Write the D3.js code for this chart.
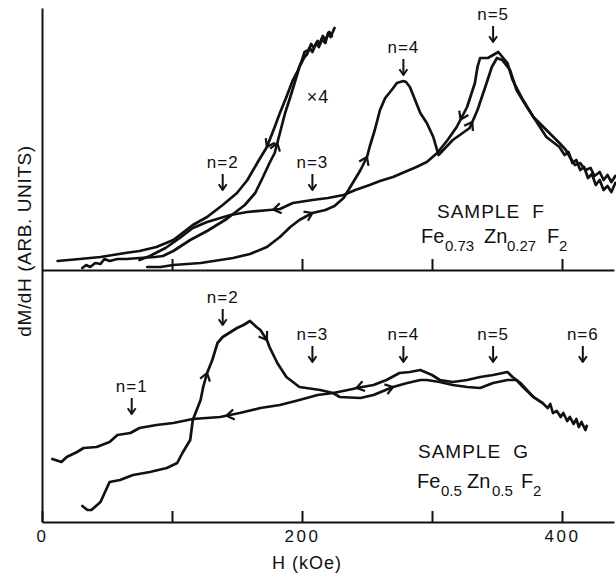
<!DOCTYPE html>
<html>
<head>
<meta charset="utf-8">
<script src="https://cdn.jsdelivr.net/npm/d3@7"></script>
<style>
  body { margin: 0; background: #fff; }
  svg text { font-family: "Liberation Sans", Arial, sans-serif; fill: #111; }
</style>
</head>
<body>
<div id="chart"></div>
<script>
// field axis
const fieldTicks = [0, 100, 200, 300, 400]
const fieldLabels = { 0: "0", 200: "200", 400: "400" }

// resonance fields marked n=1..6 (kOe)
const resonanceN = [1, 2, 3, 4, 5, 6]
const resonanceH = [69, 139, 208, 278, 347, 416]
// height of the n labels (arb. units), per panel; null = not shown
const labelLevelF = [null, 10.2, 10.2, 21.7, 25.0, null]
const labelLevelG = [13.0, 21.9, 18.2, 18.2, 18.2, 18.2]

// Sample F, traces as [H (kOe), dM/dH (arb.)]
const fX4Down = [
  [12, 0.9], [29, 1.1], [45, 1.3], [64, 1.7], [75, 1.9], [88, 2.3], [101, 3.0], [116, 4.5],
  [127, 5.3], [139, 6.5], [150, 7.7], [158, 9.0], [166, 10.8], [173, 12.3], [179, 14.3],
  [183, 15.7], [188, 17.3], [193, 19.0], [197, 20.0], [200, 21.0], [202, 21.8], [205, 22.0],
  [207, 22.6], [209, 22.2], [212, 22.9], [214, 22.6], [216, 23.4], [218, 23.0], [221, 23.8],
  [223, 23.4]
]
const fX4Up = [
  [31, 0.2], [34, 0.5], [37, 0.3], [41, 0.7], [45, 0.6], [48, 1.1], [52, 0.9], [58, 1.1],
  [65, 1.1], [75, 1.2], [87, 1.3], [93, 1.4], [101, 1.9], [114, 3.0], [127, 3.9], [142, 5.1],
  [156, 6.5], [164, 7.7], [170, 9.3], [175, 10.7], [179, 11.7], [183, 13.7], [187, 15.7],
  [191, 17.3], [195, 19.0], [198, 20.3], [202, 21.3], [204, 21.6], [206, 22.2], [208, 21.8],
  [211, 22.7], [213, 22.3], [215, 23.1], [218, 22.7], [220, 23.7], [222, 23.3], [225, 24.2]
]
const fMainUp = [
  [81, 0.3], [91, 0.3], [101, 0.5], [122, 0.7], [147, 1.2], [160, 1.6], [173, 2.3], [183, 3.3],
  [191, 4.3], [198, 5.0], [208, 5.7], [218, 6.0], [225, 6.4], [232, 7.2], [239, 8.7], [245, 10.0],
  [250, 11.3], [252, 12.3], [256, 14.0], [260, 16.0], [264, 17.2], [269, 18.0], [273, 18.7],
  [278, 18.9], [280, 18.8], [283, 18.3], [287, 17.0], [291, 15.7], [296, 14.7], [301, 13.3],
  [305, 11.5], [316, 13.0], [329, 14.2], [335, 16.0], [342, 18.7], [346, 20.3], [350, 21.2],
  [354, 21.0], [360, 20.0], [365, 18.0], [373, 16.3], [381, 14.7], [388, 13.3], [398, 12.3],
  [402, 11.5], [405, 11.8], [408, 10.7], [411, 11.0], [414, 10.0], [417, 10.3], [420, 9.2],
  [423, 9.6], [426, 8.5], [429, 9.0], [432, 8.0], [435, 8.4], [438, 7.8], [441, 8.7]
]
const fMainDown = [
  [441, 9.4], [438, 8.8], [435, 9.5], [432, 9.0], [429, 9.8], [425, 9.4], [422, 10.2], [418, 10.0],
  [414, 10.7], [410, 10.5], [406, 11.3], [403, 12.0], [398, 12.7], [388, 14.0], [378, 15.3],
  [370, 17.0], [362, 19.0], [358, 20.7], [351, 21.8], [347, 21.5], [343, 21.2], [337, 21.2],
  [335, 20.3], [333, 18.7], [327, 16.3], [319, 14.3], [312, 13.0], [304, 11.7], [296, 10.8],
  [288, 10.3], [279, 9.8], [270, 9.3], [260, 8.9], [252, 8.5], [241, 8.0], [232, 7.5], [220, 7.2],
  [208, 7.0], [193, 6.7], [183, 6.1], [175, 6.0], [158, 5.8], [145, 5.5], [127, 4.8], [116, 4.2],
  [106, 3.2], [95, 2.2], [83, 1.4], [75, 1.0]
]

// Sample G
const gUp = [
  [31, 1.6], [35, 1.2], [38, 1.2], [45, 2.0], [52, 4.0], [60, 4.2], [70, 4.7], [83, 5.0], [96, 5.4],
  [104, 5.9], [108, 6.9], [114, 8.2], [116, 10.2], [122, 12.2], [124, 13.5], [127, 14.9],
  [131, 16.2], [135, 17.9], [139, 18.5], [150, 19.4], [155, 19.7], [160, 20.1], [165, 19.5],
  [168, 19.2], [173, 18.2], [175, 17.5], [181, 15.9], [188, 14.5], [198, 13.5], [214, 13.2],
  [224, 12.9], [229, 12.5], [245, 12.4], [255, 12.7], [270, 13.5], [281, 13.9], [291, 14.2],
  [296, 14.2], [306, 14.0], [316, 13.7], [327, 13.5], [337, 13.4], [347, 13.9], [358, 14.2],
  [365, 14.2], [370, 13.5], [378, 12.5]
]
const gDown = [
  [419, 9.6], [418, 9.2], [415, 10.0], [413, 9.5], [411, 10.3], [409, 9.8], [406, 10.5],
  [404, 10.1], [401, 10.9], [399, 10.5], [396, 11.1], [393, 10.9], [391, 11.8], [389, 11.4],
  [385, 11.9], [378, 12.5], [373, 13.2], [368, 13.9], [362, 14.5], [358, 15.0], [347, 14.7],
  [337, 14.5], [327, 14.2], [316, 14.0], [306, 14.2], [300, 14.7], [291, 15.2], [283, 15.0],
  [275, 14.9], [265, 14.2], [255, 13.7], [242, 13.4], [239, 13.3], [224, 12.9], [212, 12.7],
  [198, 12.2], [183, 11.7], [168, 11.4], [152, 10.9], [137, 10.5], [116, 10.3], [101, 9.9],
  [88, 9.7], [75, 9.4], [68, 8.9], [58, 8.7], [52, 8.0], [42, 7.5], [32, 7.4], [27, 7.0],
  [19, 6.5], [15, 6.0], [8, 6.3]
]

const width = 616, height = 573
const x = d3.scaleLinear().domain([0, 440]).range([42, 614])
const yF = d3.scaleLinear().domain([0, 26]).range([270, 10])
const yG = d3.scaleLinear().domain([0, 25]).range([522, 272])

// sweep-direction arrows: [trace, H, +1 along array order / -1 against]
const arrowsF = [[fX4Down, 173, -1], [fX4Up, 181, 1], [fMainDown, 178, 1], [fMainUp, 208, 1],
  [fMainUp, 250, 1], [fMainDown, 322, 1], [fMainUp, 331, 1]]
const arrowsG = [[gUp, 127, 1], [gUp, 173, 1], [gDown, 142, 1], [gDown, 242, 1], [gUp, 270, 1]]

const svg = d3.select("#chart").append("svg")
  .attr("width", width).attr("height", height)

const ink = "#111"

function drawTrace(data, y) {
  svg.append("path").datum(data)
    .attr("d", d3.line().x(d => x(d[0])).y(d => y(d[1])))
    .attr("fill", "none").attr("stroke", ink).attr("stroke-width", 2.7)
    .attr("stroke-linejoin", "round").attr("stroke-linecap", "round")
}

function chevron(px, py, ang, len, w) {
  const s = 0.6
  const a = [px - len * Math.cos(ang - s), py - len * Math.sin(ang - s)]
  const b = [px - len * Math.cos(ang + s), py - len * Math.sin(ang + s)]
  svg.append("path")
    .attr("d", `M${a[0]},${a[1]}L${px},${py}L${b[0]},${b[1]}`)
    .attr("fill", "none").attr("stroke", ink).attr("stroke-width", w || 2.2)
    .attr("stroke-linejoin", "round")
}

function sweepArrow(data, h, dir, y) {
  for (let i = 0; i < data.length - 1; i++) {
    const a = data[i], b = data[i + 1]
    if ((h - a[0]) * (h - b[0]) <= 0 && a[0] !== b[0]) {
      const t = (h - a[0]) / (b[0] - a[0])
      const px = x(a[0]) + t * (x(b[0]) - x(a[0]))
      const py = y(a[1]) + t * (y(b[1]) - y(a[1]))
      const p0 = data[Math.max(0, i - 1)], p1 = data[Math.min(data.length - 1, i + 2)]
      let ang = Math.atan2(y(p1[1]) - y(p0[1]), x(p1[0]) - x(p0[0]))
      if (dir < 0) ang += Math.PI
      chevron(px, py, ang, 9)
      return
    }
  }
}

function resonanceLabels(levels, y) {
  resonanceN.forEach((n, i) => {
    const v = levels[i]
    if (v == null) return
    const cx = x(resonanceH[i]), by = y(v)
    svg.append("text")
      .attr("x", cx).attr("y", by)
      .attr("text-anchor", "middle")
      .attr("font-size", 17).attr("letter-spacing", 1)
      .text(`n=${n}`)
    svg.append("line")
      .attr("x1", cx).attr("x2", cx).attr("y1", by + 6).attr("y2", by + 22)
      .attr("stroke", ink).attr("stroke-width", 2)
    chevron(cx, by + 22, Math.PI / 2, 7, 2)
  })
}

// axes
const styleAxis = g => {
  g.select(".domain").attr("stroke", ink).attr("stroke-width", 2)
  g.selectAll(".tick line").attr("stroke", ink).attr("stroke-width", 2)
  g.selectAll(".tick text").attr("fill", ink).attr("font-size", 17)
    .attr("letter-spacing", 2.5)
    .attr("font-family", "Liberation Sans, Arial, sans-serif")
}

svg.append("g")
  .attr("transform", `translate(0,${yF(0)})`)
  .call(d3.axisBottom(x).tickValues(fieldTicks.slice(1)).tickSizeInner(-11)
    .tickSizeOuter(0).tickFormat(""))
  .call(styleAxis)

svg.append("g")
  .attr("transform", `translate(0,${yG(0)})`)
  .call(d3.axisBottom(x).tickValues(fieldTicks).tickSizeInner(-11)
    .tickSizeOuter(0).tickPadding(8).tickFormat(d => fieldLabels[d] || ""))
  .call(styleAxis)

svg.append("g")
  .attr("transform", `translate(${x(0)},0)`)
  .call(d3.axisLeft(d3.scaleLinear().range([yG(0), 8])).ticks(0).tickSizeOuter(0))
  .call(styleAxis)

// traces
drawTrace(fX4Down, yF)
drawTrace(fX4Up, yF)
drawTrace(fMainUp, yF)
drawTrace(fMainDown, yF)
drawTrace(gUp, yG)
drawTrace(gDown, yG)

arrowsF.forEach(([d, h, dir]) => sweepArrow(d, h, dir, yF))
arrowsG.forEach(([d, h, dir]) => sweepArrow(d, h, dir, yG))

resonanceLabels(labelLevelF, yF)
resonanceLabels(labelLevelG, yG)

svg.append("text")
  .attr("x", 318).attr("y", 103).attr("text-anchor", "middle")
  .attr("font-size", 18).attr("letter-spacing", 1)
  .text("×4")

// sample captions: main text plus subscripts
function caption(baseline, parts) {
  const t = svg.append("text").attr("font-size", 19)
  parts.forEach(([s, px, sub]) => {
    t.append("tspan")
      .attr("x", px).attr("y", sub ? baseline + 8 : baseline)
      .attr("font-size", sub ? 15 : 20)
      .text(s)
  })
}

svg.append("text").attr("x", 437).attr("y", 218)
  .attr("font-size", 19).attr("letter-spacing", 1).attr("word-spacing", 6)
  .text("SAMPLE F")
caption(243, [["Fe", 421], ["0.73", 445, true], ["Zn", 484], ["0.27", 507, true],
  ["F", 547], ["2", 559, true]])

svg.append("text").attr("x", 418).attr("y", 458)
  .attr("font-size", 19).attr("letter-spacing", 1).attr("word-spacing", 6)
  .text("SAMPLE G")
caption(488, [["Fe", 417], ["0.5", 441, true], ["Zn", 467], ["0.5", 492, true],
  ["F", 521], ["2", 533, true]])

// axis titles
svg.append("text")
  .attr("x", 307).attr("y", 569).attr("text-anchor", "middle")
  .attr("font-size", 18).attr("letter-spacing", 1)
  .text("H (kOe)")

svg.append("text")
  .attr("transform", "translate(31,241) rotate(-90)")
  .attr("text-anchor", "middle")
  .attr("font-size", 19).attr("letter-spacing", 0.6)
  .text("dM/dH (ARB. UNITS)")
</script>
</body>
</html>
